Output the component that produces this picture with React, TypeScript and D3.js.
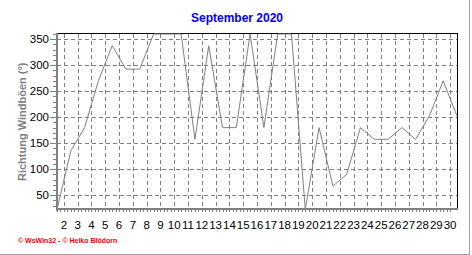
import React from "react";
import * as d3 from "d3";

const days = d3.range(1, 31);
const values = [22.5, 135, 180, 270, 337.5, 292.5, 292.5, 360, 360, 360, 157.5, 337.5, 180, 180, 360, 180, 360, 360, 22.5, 180, 67.5, 90, 180, 157.5, 157.5, 180, 157.5, 202.5, 270, 202.5];
const yTicks = [50, 100, 150, 200, 250, 300, 350];
const xLabels = d3.range(2, 31);
const title = "September 2020";
const yTitle = "Richtung Windböen  (°)";
const footer = "© WsWin32 - © Heiko Blödorn";

const W = 472, H = 255;
const L = 57, R = 457, T = 34, B = 209.5;

export default function App() {
  const x = d3.scaleLinear().domain([1, 30]).range([L, R]);
  const y = d3.scaleLinear().domain([22.5, 360]).range([B, T]);
  const line = d3.line<number>().x((_, i) => x(days[i])).y((d) => y(d));
  const minorY = d3.range(30, 361, 10).filter((v) => y(v) >= T && y(v) <= B);
  const minorX = d3.range(1, 30.01, 0.25).map((d) => d - 0.5).filter((d) => x(d) >= L && x(d) <= R);
  const font = "'Liberation Sans', Arial, sans-serif";
  return (
    <svg width={W} height={H} style={{ position: "absolute", left: 0, top: 0 }} fontFamily={font}>
      <rect x={0} y={0} width={W} height={H} fill="#fff" />
      <line x1={469.5} y1={0} x2={469.5} y2={255} stroke="#a0a0a0" strokeWidth={1} />
      <line x1={0} y1={254.5} x2={470} y2={254.5} stroke="#a0a0a0" strokeWidth={1} />
      <text x={237} y={22} textAnchor="middle" fill="#0000ff" fontWeight="bold" fontSize={12}>{title}</text>
      {/* grid */}
      <g stroke="#808080" strokeWidth={1} strokeDasharray="4,3">
        {yTicks.map((v) => (
          <line key={"h" + v} x1={L} x2={R} y1={Math.round(y(v)) + 0.5} y2={Math.round(y(v)) + 0.5} />
        ))}
        {xLabels.map((d) => (
          <line key={"v" + d} x1={Math.round(x(d - 0.5)) + 0.5} x2={Math.round(x(d - 0.5)) + 0.5} y1={T} y2={B} />
        ))}
      </g>
      {/* frame */}
      <line x1={L} x2={R + 1} y1={33.5} y2={33.5} stroke="#000" />
      <line x1={457.5} x2={457.5} y1={33} y2={210} stroke="#000" />
      {/* data */}
      <path d={line(values) || ""} fill="none" stroke="#808080" strokeWidth={1} />
      {/* axes */}
      <rect x={56} y={33} width={2} height={178} fill="#808080" />
      <rect x={56} y={208} width={402} height={2} fill="#808080" />
      <g stroke="#808080">
        {minorY.map((v) => (
          <line key={"my" + v} x1={53} x2={56} y1={Math.round(y(v)) + 0.5} y2={Math.round(y(v)) + 0.5} />
        ))}
        {yTicks.map((v) => (
          <line key={"ty" + v} x1={50} x2={56} y1={Math.round(y(v)) + 0.5} y2={Math.round(y(v)) + 0.5} />
        ))}
        {minorX.map((d) => (
          <line key={"mx" + d} x1={Math.round(x(d)) + 0.5} x2={Math.round(x(d)) + 0.5} y1={210} y2={212} />
        ))}
      </g>
      <g fontSize={11.5} fill="#000">
        {yTicks.map((v) => (
          <text key={"yl" + v} x={49} y={y(v) + 4} textAnchor="end">{v}</text>
        ))}
        {xLabels.map((d) => (
          <text key={"xl" + d} x={x(d - 0.5)} y={228.5} textAnchor="middle">{d}</text>
        ))}
      </g>
      <text transform={`translate(25.5,${(T + B) / 2}) rotate(-90)`} textAnchor="middle" fill="#808080" fontWeight="bold" fontSize={11}>{yTitle}</text>
      <text x={18} y={242.5} fill="#ff0000" fontWeight="bold" fontSize={7}>{footer}</text>
    </svg>
  );
}
